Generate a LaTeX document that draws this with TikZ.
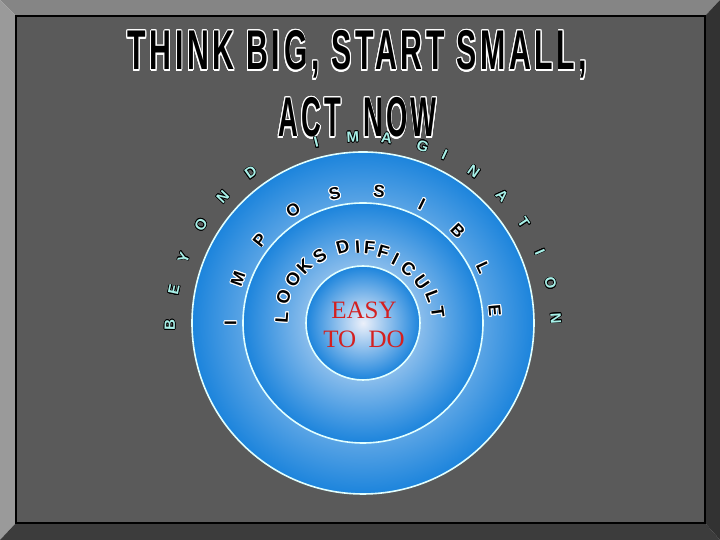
\documentclass[tikz,border=0pt]{standalone}
\usepackage{fontspec}
\setmainfont{Liberation Serif}
\setsansfont{Liberation Sans}
\newfontfamily\headfont{Liberation Sans}[LetterSpace=12]
\usepackage{xcolor}
\usepackage[copies]{contour}
\usepackage{graphicx}

\definecolor{framebg}{RGB}{90,90,90}
\definecolor{bevellight}{RGB}{133,133,133}
\definecolor{bevelside}{RGB}{154,154,154}
\definecolor{beveldark}{RGB}{60,60,60}
\definecolor{bevelshade}{RGB}{50,50,50}
\definecolor{ringblue}{RGB}{28,132,220}
\definecolor{ringcore}{RGB}{236,240,250}
\definecolor{ringedge}{RGB}{225,255,255}
\definecolor{lettercyan}{RGB}{168,240,232}
\definecolor{easyred}{RGB}{212,32,32}

\pgfdeclareradialshading{ringshade}{\pgfpoint{0bp}{0bp}}{color(0bp)=(ringcore); color(25bp)=(ringblue); color(50bp)=(ringblue)}

\newcommand{\darkrim}[1]{\contourlength{0.3pt}\contour{black}{#1}}
\newcommand{\lightrim}[1]{\contourlength{0.45pt}\contour{white}{#1}}

\begin{document}
\begin{tikzpicture}[x=0.5pt,y=0.5pt]
    \tikzstyle{disc} = [circle, draw=ringedge, line width=0.8pt, shade,
               shading=ringshade, inner sep=0pt, outer sep=0pt]
    \tikzstyle{outerletter} = [font=\fontsize{7.5}{8}\selectfont\sffamily\bfseries,
               text=lettercyan, inner sep=0pt]
    \tikzstyle{midletter} = [font=\fontsize{8.5}{9}\selectfont\sffamily\bfseries,
               text=black, inner sep=0pt]
    \tikzstyle{innerletter} = [font=\fontsize{9}{10}\selectfont\sffamily\bfseries,
               text=black, inner sep=0pt]
    \tikzstyle{title} = [font=\fontsize{28}{30}\selectfont\headfont\bfseries,
               text=black, anchor=base, inner sep=0pt]

    \useasboundingbox (0,0) rectangle (720,540);

    % Define frame
    \fill[bevellight] (0,540) -- (720,540) -- (705,524) -- (16,524) -- cycle;
    \fill[bevelside] (0,0) -- (0,540) -- (16,524) -- (16,17) -- cycle;
    \fill[beveldark] (0,0) -- (720,0) -- (705,17) -- (16,17) -- cycle;
    \fill[bevelshade] (720,0) -- (720,540) -- (705,524) -- (705,17) -- cycle;
    \filldraw[fill=framebg, draw=black, line width=0.6pt] (16,17) rectangle (705,524);

    % Title
    \node[title] (headline) at (357.5,470)
      {\scalebox{0.54}[1]{\contourlength{0.8pt}\contour{white}{THINK BIG, START SMALL,}}};
    \node[title] (actnow) at (357.5,403)
      {\scalebox{0.49}[1]{\contourlength{0.8pt}\contour{white}{ACT\hspace{0.4em} NOW}}};

    % Define discs
    \node[disc, minimum size=171pt] (outer) at (363,217) {};
    \node[disc, minimum size=120pt] (middle) at (363,217) {};
    \node[disc, minimum size=57pt] (inner) at (363,217) {};

    % Letters round the outer disc
    \begin{scope}[shift={(363,210)}]
      \foreach \ang/\ch [count=\i] in {178.5/B,168/E,158/Y,147/O,136.5/N,125.5/D,
          104/I,93/M,83/A,72/G,65/I,55/N,44/A,33.7/T,23.8/I,14/O,3.5/N}
        \node[outerletter, rotate=\ang-90] (beyond-\i) at (\ang:193) {\darkrim{\ch}};
    \end{scope}

    % Letters of the middle ring
    \begin{scope}[shift={(363,217)}]
      \foreach \ang/\ch [count=\i] in {180/I,160.6/M,141.2/P,121.8/O,102.4/S,
          83/S,63.6/I,44.2/B,24.8/L,5.4/E}
        \node[midletter, rotate=\ang-90] (imp-\i) at (\ang:132) {\lightrim{\ch}};

      \foreach \ang/\rad/\ch [count=\i] in {176/81/L,162/83/O,148/82/O,136/81/K,
          123/79/S,105/78/D,94/76/I,85/75/F,74/73/F,63/71/I,50/70/C,35/71/U,
          21/74/L,8/75/T}
        \node[innerletter, rotate=\ang-90] (looks-\i) at (\ang:\rad) {\lightrim{\ch}};
    \end{scope}

    \node[font=\fontsize{12.5}{14.5}\selectfont, text=easyred, align=center,
      inner sep=0pt] (easy) at (364,215) {EASY\\TO~~DO};

\end{tikzpicture}
\end{document}
